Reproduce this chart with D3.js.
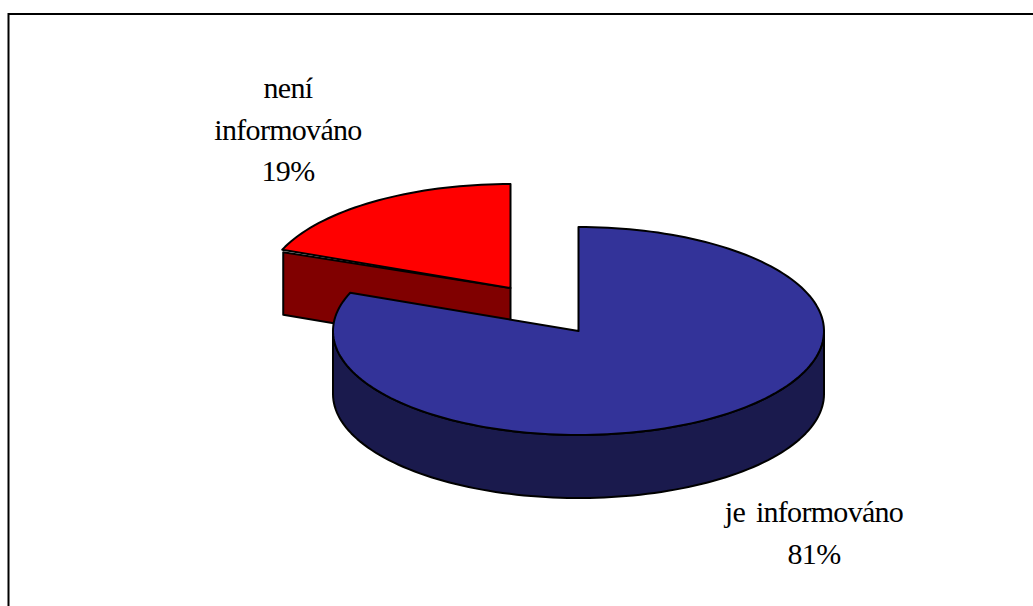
<!DOCTYPE html>
<html><head><meta charset="utf-8">
<script src="https://cdn.jsdelivr.net/npm/d3@7/dist/d3.min.js"></script>
<style>html,body{margin:0;padding:0;background:#fff;overflow:hidden}svg{display:block}</style>
</head><body>
<script>
const categories = ["je informováno", "není informováno"];
const values = [81, 19];
const labelLines = [["je informováno", "81%"], ["není", "informováno", "19%"]];
const topColors = ["#333399", "#ff0000"];
const sideColors = ["#1a1a4d", "#800000"];

const W = 1033, H = 606;
const svg = d3.select("body").append("svg").attr("width", W).attr("height", H);
svg.append("rect").attr("width", W).attr("height", H).attr("fill", "#fff");
svg.append("path").attr("d", `M8.5,${H}V14H${W}`).attr("fill", "none").attr("stroke", "#000").attr("stroke-width", 2);

const pie = d3.pie().sort(null).value(d => d)(values);
const rx = 245.5, ry = 104, depth = 63;
const centers = [[578.5, 331], [510.5, 288]];
const line = d3.line();
const pt = (c, t, dy = 0) => [c[0] + rx * Math.sin(t), c[1] - ry * Math.cos(t) + dy];
const arcPts = (c, a, b, dy = 0) => {
  const n = Math.max(2, Math.ceil(Math.abs(b - a) / 0.03));
  return d3.range(n + 1).map(i => pt(c, a + (b - a) * i / n, dy));
};
const styleFace = (sel, fill) => sel.attr("fill", fill).attr("stroke", "#000").attr("stroke-width", 2).attr("stroke-linejoin", "round");

// red slice (behind), then blue slice
[1, 0].forEach(i => {
  const p = pie[i], c = centers[i];
  const g = svg.append("g").attr("class", "slice");
  // cut face of the red slice, visible at the slice's start angle
  if (i === 1) {
    const s = pt(c, p.startAngle);
    g.append("path").attr("d", line([c, [s[0] + 1, s[1] + 2.5], [s[0] + 1, s[1] + depth + 2], [c[0], c[1] + depth + 2]]) + "Z").call(styleFace, sideColors[i]);
  }
  // outer rim, front half only
  const a = Math.max(p.startAngle, Math.PI / 2), b = Math.min(p.endAngle, 3 * Math.PI / 2);
  if (b > a) {
    const upper = arcPts(c, a, b), lower = arcPts(c, b, a, depth);
    g.append("path").attr("d", line(upper.concat(lower)) + "Z").call(styleFace, sideColors[i]);
  }
  // top face
  g.append("path").attr("d", line([c].concat(arcPts(c, p.startAngle, p.endAngle))) + "Z").call(styleFace, topColors[i]);
});

// labels
const labelPos = [[814, 522], [288, 98]];
labelLines.forEach((ls, i) => {
  const t = svg.append("text").attr("text-anchor", "middle").attr("font-family", "'Liberation Serif','Times New Roman',serif")
    .attr("font-size", 30).attr("letter-spacing", -0.7).attr("word-spacing", 4).attr("fill", "#000");
  ls.forEach((s, j) => t.append("tspan").attr("x", labelPos[i][0]).attr("y", labelPos[i][1] + j * 41.5).text(s));
});
</script>
</body></html>
